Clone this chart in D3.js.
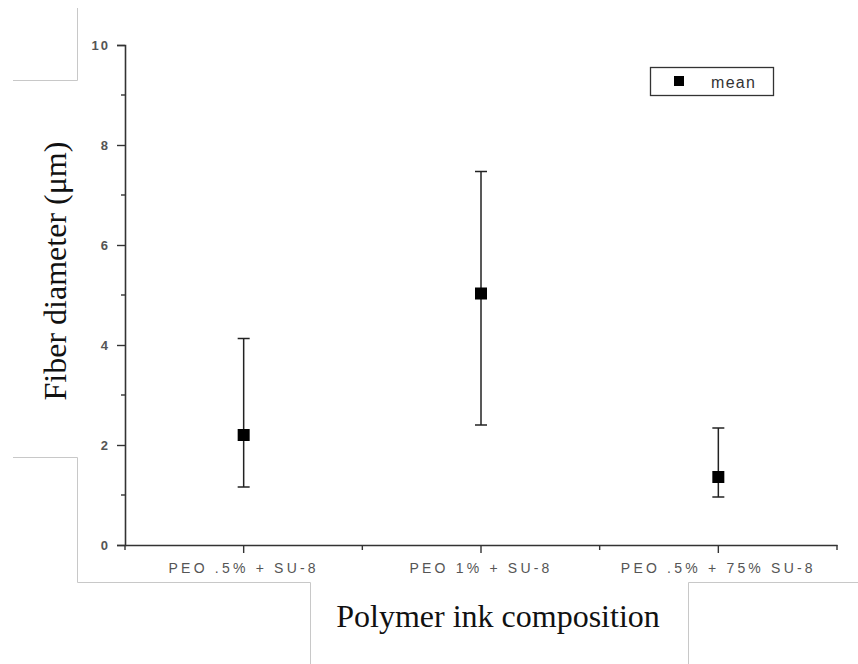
<!DOCTYPE html>
<html>
<head>
<meta charset="utf-8">
<script src="https://cdn.jsdelivr.net/npm/d3@7"></script>
<style>
  html, body { margin: 0; padding: 0; background: #fff; }
  svg { display: block; }
</style>
</head>
<body>
<div id="chart"></div>
<script>
// ---- data ----
const categories = ["PEO .5% + SU-8", "PEO 1% + SU-8", "PEO .5% + 75% SU-8"];
const meanValues = [2.2, 5.03, 1.36];
const upperValues = [4.13, 7.47, 2.34];
const lowerValues = [1.16, 2.4, 0.96];
const yTickValues = [0, 2, 4, 6, 8, 10];
const yMinorTickValues = [1, 3, 5, 7, 9];
const legendLabel = "mean";
const xTitle = "Polymer ink composition";
const yTitle = "Fiber diameter (\u03bcm)";

const W = 858, H = 664;
const svg = d3.select("#chart").append("svg")
  .attr("width", W).attr("height", H);

// page crop frame lines (scan artifacts)
const frame = svg.append("g").attr("stroke", "#c8c8c8").attr("stroke-width", 1).attr("fill", "none");
frame.append("path").attr("d", "M77.5,8 V80.5 H13");
frame.append("path").attr("d", "M13,457.5 H77.5 V582.5 H310.5 V664");
frame.append("path").attr("d", "M688.5,664 V582.5 H858");

const x = d3.scaleBand().domain(categories).range([125, 837]).paddingInner(0).paddingOuter(0);
const y = d3.scaleLinear().domain([0, 10]).range([545, 45]);
const cx = d => x(d) + x.bandwidth() / 2;

const axisColor = "#333";

// Y axis
const yAxis = svg.append("g").attr("transform", "translate(125,0)")
  .call(d3.axisLeft(y).tickValues(yTickValues).tickSize(8).tickPadding(7).tickFormat(d3.format("d")));
yAxis.select(".domain").attr("stroke", axisColor).attr("stroke-width", 1.6);
yAxis.selectAll(".tick line").attr("stroke", axisColor).attr("stroke-width", 1.4);
yAxis.selectAll(".tick text").attr("font-family", "Arial, 'Liberation Sans', sans-serif")
  .attr("font-size", 13).attr("fill", "#555").attr("font-weight", "bold")
  .style("letter-spacing", "2px");
yAxis.selectAll(".minor").data(yMinorTickValues).enter().append("line")
  .attr("class", "minor")
  .attr("x1", -4).attr("x2", 0)
  .attr("y1", d => y(d)).attr("y2", d => y(d))
  .attr("stroke", axisColor).attr("stroke-width", 1.4);

// X axis
const xAxis = svg.append("g").attr("transform", "translate(0,545)")
  .call(d3.axisBottom(x).tickSize(8).tickPadding(10).tickSizeOuter(0));
xAxis.select(".domain").attr("stroke", axisColor).attr("stroke-width", 1.6);
xAxis.selectAll(".tick line").attr("stroke", axisColor).attr("stroke-width", 1.4);
xAxis.selectAll(".tick text").attr("font-family", "Arial, 'Liberation Sans', sans-serif")
  .attr("font-size", 14).attr("fill", "#555")
  .style("letter-spacing", "3.2px");
const edges = categories.map(c => x(c)).concat([x(categories[categories.length - 1]) + x.bandwidth()]);
xAxis.selectAll(".minor").data(edges).enter().append("line")
  .attr("class", "minor")
  .attr("x1", d => d).attr("x2", d => d)
  .attr("y1", 0).attr("y2", 5)
  .attr("stroke", axisColor).attr("stroke-width", 1.4);

// error bars
const eb = svg.append("g").attr("stroke", "#222").attr("stroke-width", 1.5);
categories.forEach((c, i) => {
  const xc = cx(c);
  eb.append("line").attr("x1", xc).attr("x2", xc).attr("y1", y(upperValues[i])).attr("y2", y(lowerValues[i]));
  eb.append("line").attr("x1", xc - 6).attr("x2", xc + 6).attr("y1", y(upperValues[i])).attr("y2", y(upperValues[i]));
  eb.append("line").attr("x1", xc - 6).attr("x2", xc + 6).attr("y1", y(lowerValues[i])).attr("y2", y(lowerValues[i]));
});

// mean markers
svg.append("g").selectAll("rect").data(categories).enter().append("rect")
  .attr("x", d => cx(d) - 6).attr("y", (d, i) => y(meanValues[i]) - 6)
  .attr("width", 12).attr("height", 12).attr("fill", "#000");

// legend
const lg = svg.append("g");
lg.append("rect").attr("x", 650.5).attr("y", 67.5).attr("width", 123).attr("height", 28)
  .attr("fill", "#fff").attr("stroke", "#333").attr("stroke-width", 1.3);
lg.append("rect").attr("x", 674).attr("y", 76).attr("width", 10).attr("height", 10).attr("fill", "#000");
lg.append("text").attr("x", 711).attr("y", 88).text(legendLabel)
  .attr("font-family", "Arial, 'Liberation Sans', sans-serif").attr("font-size", 16)
  .attr("fill", "#333").style("letter-spacing", "1.3px");

// titles
svg.append("text").attr("x", 498).attr("y", 627).attr("text-anchor", "middle")
  .attr("font-family", "'Liberation Serif', 'Times New Roman', serif").attr("font-size", 32)
  .attr("fill", "#111").text(xTitle);
svg.append("text").attr("transform", "translate(66,271) rotate(-90)").attr("text-anchor", "middle")
  .attr("font-family", "'Liberation Serif', 'Times New Roman', serif").attr("font-size", 32)
  .attr("fill", "#111").text(yTitle);
</script>
</body>
</html>
